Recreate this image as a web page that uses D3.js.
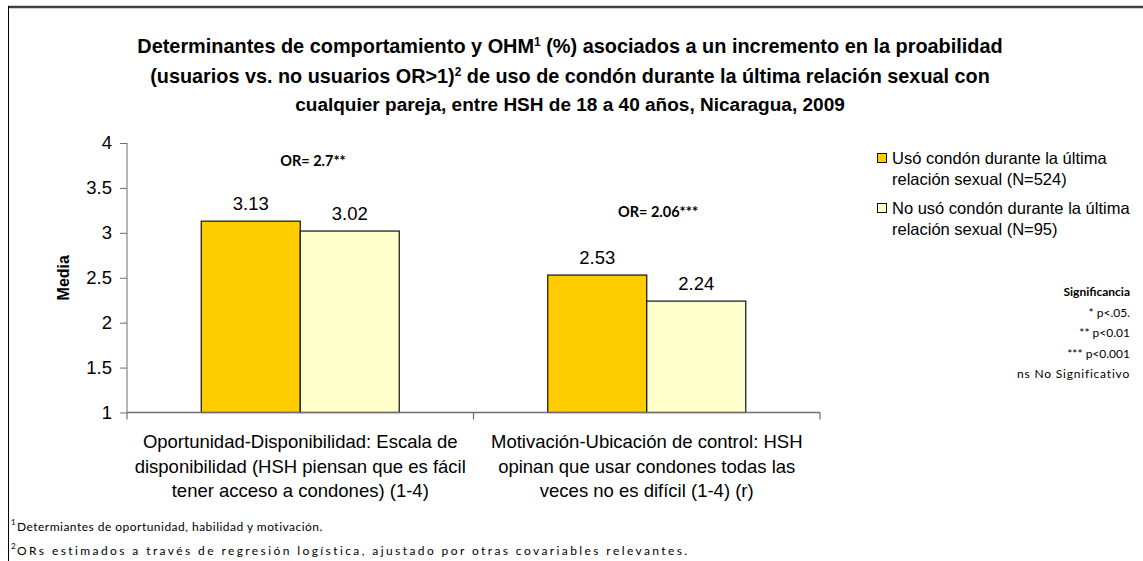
<!DOCTYPE html>
<html><head><meta charset="utf-8">
<script src="https://cdn.jsdelivr.net/npm/d3@7"></script>
<style>
html,body{margin:0;padding:0;background:#fff;}
svg{display:block;}
</style></head>
<body>
<svg id="chart" width="1143" height="561"></svg>
<script>
// ---------- data ----------
const categories = [
  ["Oportunidad-Disponibilidad: Escala de", "disponibilidad (HSH piensan que es fácil", "tener acceso a condones) (1-4)"],
  ["Motivación-Ubicación de control: HSH", "opinan que usar condones todas las", "veces no es difícil (1-4) (r)"]
];
const categoryKeys = ["disp", "motiv"];
const seriesNames = [
  ["Usó condón durante la última", "relación sexual (N=524)"],
  ["No usó condón durante la última", "relación sexual (N=95)"]
];
const usoValues = [3.13, 2.53];
const noUsoValues = [3.02, 2.24];
const orLabels = ["OR= 2.7**", "OR= 2.06***"];
const yTicks = [1, 1.5, 2, 2.5, 3, 3.5, 4];
const titleLines = [
  [["Determinantes de comportamiento y OHM", ""], ["1", "sup"], [" (%) asociados a un incremento en la proabilidad", ""]],
  [["(usuarios vs. no usuarios OR>1)", ""], ["2", "sup"], [" de uso de condón durante la última relación sexual con", ""]],
  [["cualquier pareja, entre HSH de 18 a 40 años, Nicaragua, 2009", ""]]
];
const sigLines = ["Significancia", "* p<.05.", "** p<0.01", "*** p<0.001", "ns No Significativo"];
const footnotes = [
  ["1", "Determiantes de oportunidad, habilidad y motivación."],
  ["2", "ORs estimados a través de regresión logística, ajustado por otras covariables relevantes."]
];
const colors = ["#FFCC00", "#FFFFCC"];

// ---------- layout ----------
const svg = d3.select("#chart");
const sans = "'Liberation Sans', Arial, sans-serif";
const cal = "Lato, 'Open Sans', sans-serif";

// frame
svg.append("line").attr("x1", 8).attr("x2", 1143).attr("y1", 7).attr("y2", 7)
  .attr("stroke", "#404040").attr("stroke-width", 2.5);
svg.append("line").attr("x1", 8.5).attr("x2", 8.5).attr("y1", 6).attr("y2", 561)
  .attr("stroke", "#000").attr("stroke-width", 1);

function fit(sel, w) {
  const cur = sel.node().getComputedTextLength();
  const fs = parseFloat(sel.attr("font-size"));
  sel.attr("font-size", (fs * w / cur).toFixed(2));
}

// title
const titleY = [53, 83, 111];
const titleW = [866, 840, 550];
titleLines.forEach((parts, i) => {
  const t = svg.append("text").attr("x", 570).attr("y", titleY[i])
    .attr("text-anchor", "middle").attr("font-family", sans).attr("font-weight", "bold")
    .attr("font-size", 18).attr("fill", "#000");
  parts.forEach((p, j) => {
    const ts = t.append("tspan").text(p[0]);
    if (p[1] === "sup") ts.attr("font-size", "0.6em").attr("dy", "-0.6em");
    else if (j > 0) ts.attr("dy", "0.36em");
  });
  fit(t, titleW[i]);
});

// scales
const x = d3.scaleBand().domain(categoryKeys).range([127, 820]).paddingInner(0).paddingOuter(0);
const x1 = d3.scaleBand().domain([0, 1]).range([0, x.bandwidth()]).paddingInner(0).paddingOuter(0.75);
const y = d3.scaleLinear().domain([1, 4]).range([412.5, 143]);

// y axis
const yAxis = svg.append("g").attr("transform", "translate(127,0)")
  .call(d3.axisLeft(y).tickValues(yTicks).tickSize(7).tickPadding(8).tickFormat(d3.format("")));
yAxis.select(".domain").attr("stroke", "#6e6e6e").attr("d", `M0,${y(4)}V${y(1)}`);
yAxis.selectAll(".tick line").attr("stroke", "#6e6e6e");
yAxis.selectAll(".tick text").attr("font-family", sans).attr("font-size", 18.5).attr("fill", "#000");

svg.append("text").attr("transform", `translate(69,${(y(1) + y(4)) / 2}) rotate(-90)`)
  .attr("text-anchor", "middle").attr("font-family", sans).attr("font-weight", "bold")
  .attr("font-size", 16).text("Media");

// bars
const groups = svg.selectAll("g.grp").data(categoryKeys).join("g").attr("class", "grp")
  .attr("transform", d => `translate(${x(d)},0)`);
const seriesVals = [usoValues, noUsoValues];
groups.each(function (k, ci) {
  const g = d3.select(this);
  [0, 1].forEach(si => {
    const v = seriesVals[si][ci];
    g.append("rect").attr("x", x1(si)).attr("width", x1.bandwidth())
      .attr("y", y(v)).attr("height", y(1) - y(v))
      .attr("fill", colors[si]).attr("stroke", "#111").attr("stroke-width", 1.2);
    g.append("text").attr("x", x1(si) + x1.bandwidth() / 2).attr("y", y(v) - 11)
      .attr("text-anchor", "middle").attr("font-family", sans).attr("font-size", 18.5)
      .text(v.toFixed(2));
  });
});

// x axis line + ticks at category boundaries
svg.append("line").attr("x1", 127).attr("x2", 820).attr("y1", y(1)).attr("y2", y(1))
  .attr("stroke", "#6e6e6e").attr("stroke-width", 1.5);
const bounds = [x.range()[0], ...categoryKeys.slice(1).map(k => x(k)), x.range()[1]];
svg.selectAll("line.xt").data(bounds).join("line").attr("class", "xt")
  .attr("x1", d => d).attr("x2", d => d).attr("y1", y(1)).attr("y2", y(1) + 7)
  .attr("stroke", "#6e6e6e").attr("stroke-width", 1.2);

// category labels
categories.forEach((lines, ci) => {
  const cx = x(categoryKeys[ci]) + x.bandwidth() / 2;
  lines.forEach((ln, li) => {
    svg.append("text").attr("x", cx).attr("y", 448 + li * 24.5)
      .attr("text-anchor", "middle").attr("font-family", sans).attr("font-size", 18.5).text(ln);
  });
});

// OR labels
const orPos = [[313, 166], [658, 217]];
orLabels.forEach((s, i) => {
  svg.append("text").attr("x", orPos[i][0]).attr("y", orPos[i][1]).attr("text-anchor", "middle")
    .attr("font-family", cal).attr("font-weight", "bold").attr("font-size", 14.5).text(s);
});

// legend
const legY = [153, 203];
seriesNames.forEach((ln, i) => {
  svg.append("rect").attr("x", 877.5).attr("y", legY[i] + 0.5).attr("width", 9).attr("height", 9)
    .attr("fill", colors[i]).attr("stroke", "#111").attr("stroke-width", 1);
  ln.forEach((s, j) => {
    svg.append("text").attr("x", 892).attr("y", legY[i] + 11 + j * 21)
      .attr("font-family", sans).attr("font-size", 16.5).text(s);
  });
});

// significance
sigLines.forEach((s, i) => {
  svg.append("text").attr("x", 1130).attr("y", 296 + i * 20.5).attr("text-anchor", "end")
    .attr("font-family", cal).attr("font-weight", i === 0 ? "bold" : "normal")
    .attr("font-size", 12).attr("letter-spacing", i === 4 ? 0.8 : 0).text(s);
});

// footnotes
const footY = [531, 555];
const footW = [306, 673];
footnotes.forEach((f, i) => {
  svg.append("text").attr("x", 11).attr("y", footY[i] - 6).attr("font-family", cal)
    .attr("font-size", 8).text(f[0]);
  const t = svg.append("text").attr("x", 17).attr("y", footY[i]).attr("font-family", cal)
    .attr("font-size", 12).text(f[1]);
  const cur = t.node().getComputedTextLength();
  const n = f[1].length;
  t.attr("letter-spacing", ((footW[i] - cur) / n).toFixed(3));
});
</script>
</body></html>
